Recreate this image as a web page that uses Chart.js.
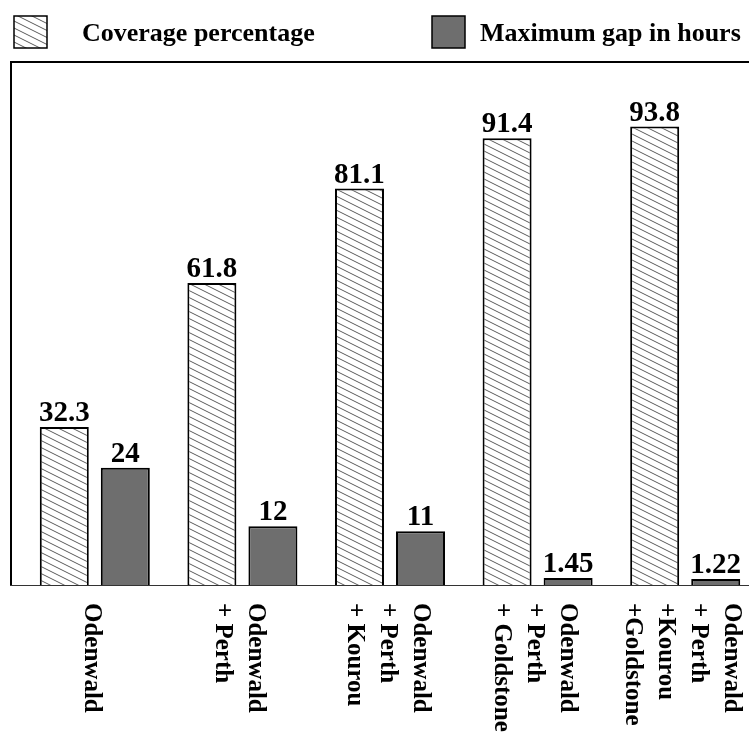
<!DOCTYPE html>
<html>
<head>
<meta charset="utf-8">
<script src="https://cdn.jsdelivr.net/npm/chart.js@4.4.1/dist/chart.umd.min.js"></script>
<style>
    html, body { margin: 0; padding: 0; background: #fff; overflow: hidden; }
    #wrap { width: 760px; height: 732px; }
</style>
</head>
<body>
<div id="wrap"><canvas id="coverageChart"></canvas></div>
<script>
// Ground station combinations (one line per station, first line drawn rightmost)
const stations = [
    ['Odenwald'],
    ['Odenwald', '+ Perth'],
    ['Odenwald', '+ Perth', '+ Kourou'],
    ['Odenwald', '+ Perth', '+ Goldstone'],
    ['Odenwald', '+ Perth', '+Kourou', '+Goldstone']
];
const coverage = [32.3, 61.8, 81.1, 91.4, 93.8];
const maxGap = [24, 12, 11, 1.45, 1.22];
const seriesNames = ['Coverage percentage', 'Maximum gap in hours'];

const SERIF = '"Liberation Serif", "Times New Roman", serif';
const GAP_GREY = '#6e6e6e';

function hatch() {
    const c = document.createElement('canvas');
    c.width = 14; c.height = 7;
    const g = c.getContext('2d');
    g.fillStyle = '#fff';
    g.fillRect(0, 0, 14, 7);
    g.strokeStyle = '#5a5a5a';
    g.lineWidth = 1;
    for (const dy of [-7, 0, 7]) {
        g.beginPath();
        g.moveTo(-2, dy - 1);
        g.lineTo(16, dy + 8);
        g.stroke();
    }
    return g.createPattern(c, 'repeat');
}
const hatchFill = hatch();

// frame, value labels, rotated station labels and legend
const decorations = {
    id: 'decorations',
    afterDatasetsDraw(chart) {
        const { ctx, chartArea: a, scales: { x } } = chart;
        ctx.save();

        ctx.strokeStyle = '#000';
        ctx.lineWidth = 2;
        ctx.beginPath();
        ctx.moveTo(11, a.bottom);
        ctx.lineTo(11, a.top);
        ctx.lineTo(chart.width, a.top);
        ctx.stroke();
        ctx.lineWidth = 1;
        ctx.strokeStyle = '#333';
        ctx.beginPath();
        ctx.moveTo(10, a.bottom + 0.5);
        ctx.lineTo(chart.width, a.bottom + 0.5);
        ctx.stroke();

        ctx.fillStyle = '#000';
        ctx.font = 'bold 29px ' + SERIF;
        ctx.textAlign = 'center';
        ctx.textBaseline = 'alphabetic';
        chart.data.datasets.forEach((ds, i) => {
            chart.getDatasetMeta(i).data.forEach((bar, j) => {
                ctx.fillText(String(ds.data[j]), bar.x, bar.y - 6);
            });
        });

        ctx.font = 'bold 25px ' + SERIF;
        ctx.textAlign = 'left';
        ctx.textBaseline = 'middle';
        stations.forEach((lines, i) => {
            const cx = x.getPixelForTick(i) - 3;
            lines.forEach((t, j) => {
                ctx.save();
                ctx.translate(cx + ((lines.length - 1) / 2 - j) * 33, a.bottom + 18);
                ctx.rotate(Math.PI / 2);
                ctx.fillText(t, 0, 0);
                ctx.restore();
            });
        });

        // legend
        const boxes = [[14, hatchFill, 82], [432, GAP_GREY, 480]];
        ctx.font = 'bold 26px ' + SERIF;
        ctx.textBaseline = 'alphabetic';
        boxes.forEach(([bx, fill, tx], i) => {
            ctx.fillStyle = fill;
            ctx.fillRect(bx, 16, 33, 32);
            ctx.strokeStyle = '#000';
            ctx.lineWidth = 1.5;
            ctx.strokeRect(bx, 16, 33, 32);
            ctx.fillStyle = '#000';
            ctx.fillText(seriesNames[i], tx, 41);
        });
        ctx.restore();
    }
};

const ctx = document.getElementById('coverageChart').getContext('2d');
new Chart(ctx, {
    type: 'bar',
    data: {
        labels: stations,
        datasets: [{
            label: seriesNames[0],
            data: coverage,
            backgroundColor: hatchFill,
            borderColor: '#000',
            borderWidth: 2
        }, {
            label: seriesNames[1],
            data: maxGap,
            backgroundColor: GAP_GREY,
            borderColor: '#000',
            borderWidth: 2
        }]
    },
    options: {
        responsive: true,
        maintainAspectRatio: false,
        animation: false,
        categoryPercentage: 0.827,
        barPercentage: 0.803,
        layout: { padding: { top: 62, left: 21, right: 1, bottom: 147 } },
        scales: {
            x: { display: false },
            y: { display: false, min: 0, max: 107 }
        },
        plugins: {
            legend: { display: false },
            tooltip: { enabled: false }
        }
    },
    plugins: [decorations]
});
</script>
</body>
</html>
